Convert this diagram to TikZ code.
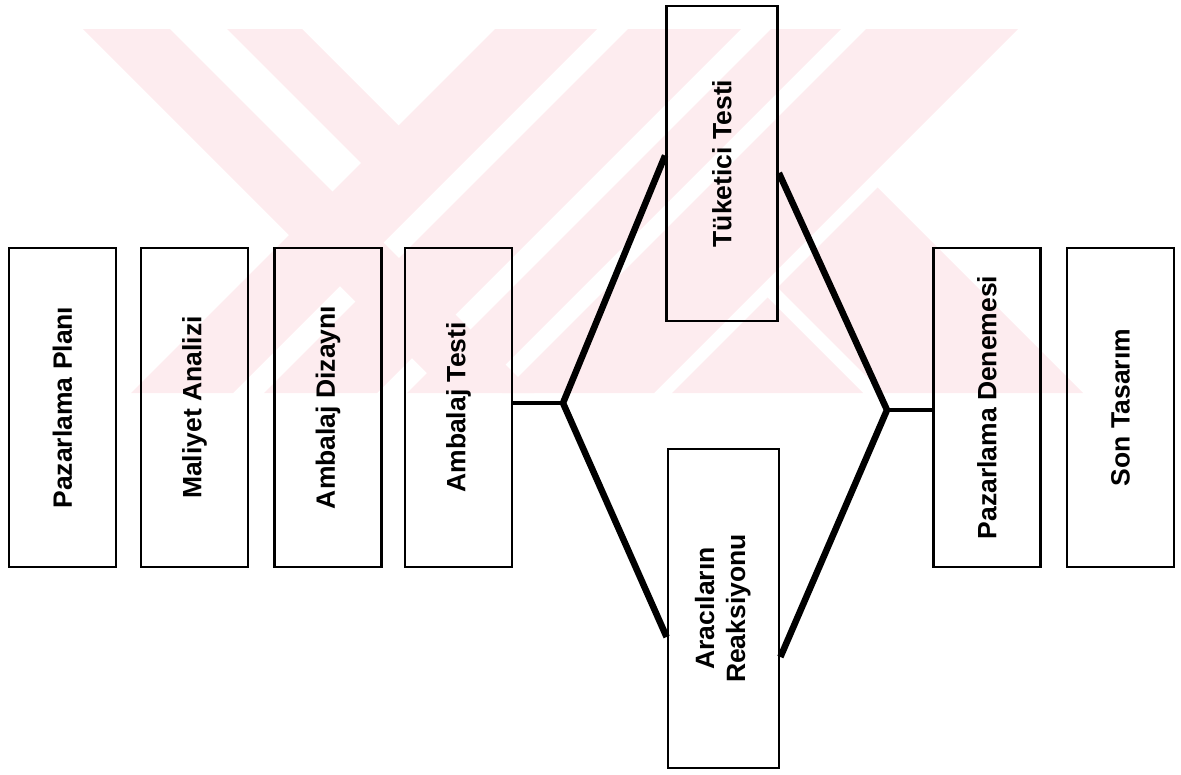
\documentclass[tikz,border=0pt]{standalone}
\usepackage{fontspec}
\setmainfont{Liberation Sans}
\definecolor{wm}{RGB}{253,236,239}
\begin{document}
\begin{tikzpicture}[x=1pt,y=-1pt,
  stagebox/.style={draw=black, line width=2.8pt, rectangle, inner sep=0pt,
    minimum width=107pt, minimum height=319pt,
    font=\bfseries\fontsize{26.5}{31}\selectfont, align=center},
  branchbox/.style={stagebox, minimum width=111pt},
  thickconn/.style={draw=black, line width=6.5pt, line join=miter, miter limit=20},
  thinconn/.style={draw=black, line width=4.5pt},
  wmark/.style={fill=wm, draw=none}]
\useasboundingbox (0,0) rectangle (1181,774);

% watermark
\begin{scope}
\clip (0,29) rectangle (1181,393);
\fill[wmark] (83,29) -- (170,29) -- (534,393) -- (447,393) -- cycle;
\fill[wmark] (227,29) -- (302,29) -- (401.5,128.5) -- (364,166) -- cycle;
\fill[wmark] (495,29) -- (597,29) -- (233,393) -- (131,393) -- cycle;
\fill[wmark] (628,29) -- (741,29) -- (377,393) -- (264,393) -- cycle;
\fill[wmark] (771,29) -- (841,29) -- (477,393) -- (407,393) -- cycle;
\fill[wmark] (866,29) -- (1018,29) -- (654,393) -- (502,393) -- cycle;
\fill[wmark] (767.5,297.5) -- (863,393) -- (672,393) -- cycle;
\fill[wmark] (777.5,287.5) -- (877.5,187.5) -- (1083,393) -- (883,393) -- cycle;
\end{scope}

% boxes
\node[stagebox] (b1) at (62.5,407.5) {\rotatebox{90}{Pazarlama Planı}};
\node[stagebox] (b2) at (194.5,407.5) {\rotatebox{90}{Maliyet Analizi}};
\node[stagebox] (b3) at (328,407.5) {\rotatebox{90}{Ambalaj Dizaynı}};
\node[stagebox] (b4) at (458.5,407.5) {\rotatebox{90}{Ambalaj Testi}};
\node[branchbox, minimum height=315pt] (b5) at (722,163.5) {\rotatebox{90}{Tüketici Testi}};
\node[branchbox] (b6) at (723.5,608.5) {\rotatebox{90}{\begin{tabular}{@{}c@{}}Aracıların\\Reaksiyonu\end{tabular}}};
\node[stagebox] (b7) at (987,407.5) {\rotatebox{90}{Pazarlama Denemesi}};
\node[stagebox] (b8) at (1120.5,407.5) {\rotatebox{90}{Son Tasarım}};

% connectors
\coordinate (j1) at (563,403);
\coordinate (j2) at (887,410);
\draw[thinconn] (j1 -| b4.east) -- (j1);
\draw[thickconn] ([yshift=8pt]b5.west) -- (j1) -- ([yshift=-28.5pt]b6.west);
\draw[thickconn] ([yshift=-9.5pt]b5.east) -- (j2) -- ([yshift=-48.5pt]b6.east);
\draw[thinconn] (j2) -- (j2 -| b7.west);
\end{tikzpicture}
\end{document}
